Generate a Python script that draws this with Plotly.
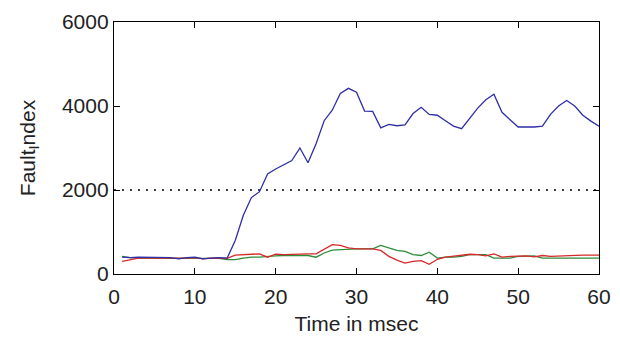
import plotly.graph_objects as go

# Time axis (msec)
time_ms = list(range(1, 61))

# Fault index per phase
phase_blue = [400, 390, 400, 400, 400, 400, 390, 360, 390, 400,
              360, 380, 390, 380, 800, 1400, 1820, 1960, 2380, 2500,
              2600, 2700, 3000, 2650, 3100, 3650, 3900, 4300, 4420, 4330,
              3880, 3870, 3480, 3560, 3530, 3550, 3820, 3970, 3800, 3780,
              3650, 3520, 3460, 3700, 3950, 4150, 4280, 3850, 3680, 3500,
              3500, 3500, 3520, 3800, 4000, 4130, 4000, 3780, 3640, 3520]

phase_red = [300, 340, 380, 380, 380, 380, 380, 370, 380, 390,
             360, 380, 380, 370, 450, 460, 480, 480, 400, 470,
             460, 470, 470, 480, 480, 600, 700, 680, 620, 600,
             600, 600, 560, 420, 330, 260, 300, 320, 230, 350,
             400, 420, 450, 470, 460, 430, 480, 400, 420, 420,
             430, 410, 440, 420, 430, 440, 450, 450, 450, 450]

phase_green = [420, 390, 380, 380, 380, 380, 380, 380, 380, 380,
               370, 370, 370, 340, 340, 380, 400, 400, 420, 430,
               440, 440, 440, 440, 400, 500, 570, 580, 600, 600,
               600, 600, 680, 620, 560, 540, 460, 440, 520, 380,
               400, 400, 420, 460, 460, 460, 380, 380, 380, 420,
               430, 430, 380, 380, 380, 380, 380, 380, 380, 380]

threshold = 2000
x_ticks = [0, 10, 20, 30, 40, 50, 60]
y_ticks = [0, 2000, 4000, 6000]

fig = go.Figure()
fig.add_trace(go.Scatter(x=[0, 60], y=[threshold, threshold], mode="lines",
                         line=dict(color="black", width=1.3, dash="2px,6px"),
                         hoverinfo="skip"))
fig.add_trace(go.Scatter(x=time_ms, y=phase_green, mode="lines",
                         line=dict(color="#2e8b3a", width=1.3)))
fig.add_trace(go.Scatter(x=time_ms, y=phase_red, mode="lines",
                         line=dict(color="#d42a2a", width=1.3)))
fig.add_trace(go.Scatter(x=time_ms, y=phase_blue, mode="lines",
                         line=dict(color="#2e2ea8", width=1.3)))

font = dict(family="Liberation Sans, Arial, sans-serif", size=21, color="#222222")

axis_common = dict(
    showgrid=False, zeroline=False, showline=True, linecolor="black", linewidth=1.3,
    mirror="ticks", ticks="inside", ticklen=6, tickwidth=1.3, tickcolor="black",
    tickfont=font, automargin=False,
)

fig.update_layout(
    width=620, height=338,
    margin=dict(l=114, r=21, t=22, b=64),
    paper_bgcolor="white", plot_bgcolor="white",
    showlegend=False,
    font=font,
    xaxis=dict(range=[0, 60], tickvals=x_ticks, ticktext=[str(v) for v in x_ticks],
               ticklabelstandoff=4,
               title=dict(text="Time in msec", font=font, standoff=8), **axis_common),
    yaxis=dict(range=[0, 6000], tickvals=y_ticks, ticktext=[str(v) for v in y_ticks],
               title=dict(text="Fault<sub>I</sub>ndex", font=font, standoff=20), **axis_common),
)

fig.write_html("out.html")
